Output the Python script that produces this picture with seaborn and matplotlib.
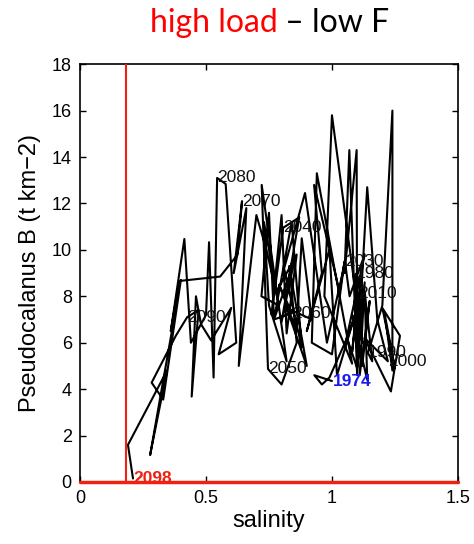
import matplotlib
matplotlib.use("Agg")
import matplotlib.pyplot as plt
import seaborn as sns
import pandas as pd

# trajectory vertices (salinity, biomass), in time order 1974 -> 2098
salinity = [
    1.00, 0.93, 0.96, 0.99, 1.06, 1.10, 1.12, 1.095,
    1.10, 1.13, 1.11, 1.15, 1.12, 1.08, 1.14, 1.13, 1.16, 1.143,
    1.20, 1.24, 1.24, 1.21, 1.25, 1.20, 1.27, 1.234, 1.13, 1.222,
    1.18, 1.14, 1.10, 1.098, 1.05, 1.069, 1.10, 1.12, 1.08, 1.103,
    1.12, 1.00, 0.97, 1.08, 1.01, 0.94, 0.92, 1.00, 1.05, 1.03,
    0.929, 0.96, 0.90, 0.99, 1.02, 1.10, 1.05, 1.13, 1.07, 1.052,
    0.98, 0.893, 0.81, 0.88, 0.84, 0.77, 0.85, 0.80, 0.87, 0.806,
    0.76, 0.80, 0.82, 0.86, 0.78, 0.73, 0.75, 0.82, 0.721, 0.746,
    0.80, 0.86, 0.83, 0.90, 0.82, 0.92, 0.88, 0.86, 0.79, 0.841,
    0.77, 0.75, 0.72, 0.79, 0.74, 0.70, 0.63, 0.66, 0.61, 0.643,
    0.624, 0.556, 0.394, 0.36, 0.414, 0.44, 0.50, 0.512, 0.53, 0.544,
    0.578, 0.62, 0.55, 0.60, 0.52, 0.48, 0.46, 0.443, 0.47, 0.425,
    0.38, 0.284, 0.33, 0.40, 0.278, 0.345, 0.19, 0.21,
]
biomass = [
    4.35, 4.6, 4.2, 4.5, 6.2, 4.9, 8.5, 8.97,
    5.2, 8.6, 4.6, 7.8, 5.0, 7.2, 4.4, 8.2, 5.2, 5.56,
    7.6, 16.0, 4.8, 7.2, 4.9, 7.5, 6.3, 3.9, 6.2, 5.2,
    7.0, 12.7, 5.0, 14.3, 9.0, 14.3, 4.6, 9.3, 5.6, 8.1,
    6.0, 15.8, 8.0, 5.1, 9.2, 13.3, 6.0, 5.5, 9.5, 8.2,
    12.8, 9.0, 6.5, 10.0, 4.6, 7.5, 5.8, 9.8, 8.0, 9.48,
    6.0, 12.45, 9.2, 5.8, 11.2, 7.0, 9.5, 6.9, 11.4, 10.95,
    7.2, 11.5, 6.4, 9.8, 8.2, 11.2, 7.6, 5.2, 12.8, 4.87,
    4.2, 6.0, 9.3, 5.0, 7.5, 7.0, 10.5, 6.5, 8.5, 7.28,
    7.0, 11.6, 8.0, 7.6, 10.0, 11.5, 5.0, 11.8, 9.0, 12.1,
    9.78, 8.85, 8.66, 6.5, 10.47, 6.0, 7.2, 10.33, 4.5, 13.1,
    12.84, 6.0, 5.5, 7.5, 6.1, 6.8, 8.0, 3.68, 7.4, 7.1,
    6.3, 4.28, 3.55, 8.7, 1.16, 4.8, 1.6, 0.15,
]

# year labels
label_text = ["1980", "1990", "2000", "2010", "2030", "2040",
              "2050", "2060", "2070", "2080", "2090"]
label_x = [1.095, 1.143, 1.222, 1.103, 1.052, 0.806, 0.746, 0.841, 0.643, 0.544, 0.425]
label_y = [8.97, 5.56, 5.2, 8.1, 9.48, 10.95, 4.87, 7.28, 12.1, 13.1, 7.1]
start_label, start_x, start_y = "1974", 1.004, 4.35
end_label, end_x, end_y = "2098", 0.21, 0.15

threshold_x = 0.183

sns.set_theme(style="white")
plt.rcParams["font.family"] = ["Liberation Sans", "DejaVu Sans"]
plt.rcParams["text.color"] = "black"
plt.rcParams["axes.labelcolor"] = "black"

fig = plt.figure(figsize=(4.74, 5.44), dpi=100)
ax = fig.add_axes([0.169, 0.114, 0.797, 0.768])

df = pd.DataFrame({"salinity": salinity, "biomass": biomass, "order": range(len(salinity))})
sns.lineplot(data=df, x="salinity", y="biomass", sort=False, estimator=None,
             color="black", linewidth=1.5, ax=ax)

red = "#ee2211"
ax.axvline(threshold_x, color=red, linewidth=1.5, zorder=5)
ax.axhline(0, color=red, linewidth=2.5, zorder=5, clip_on=False)

for t, x, y in zip(label_text, label_x, label_y):
    ax.text(x, y, t, fontsize=12.5, ha="left", va="center", color="#111111")
ax.text(start_x, start_y, start_label, fontsize=12.5, fontweight="bold",
        ha="left", va="center", color="#1a1aee")
ax.text(end_x, end_y, end_label, fontsize=12.5, fontweight="bold",
        ha="left", va="center", color=red, zorder=6)

ax.set_xlim(0, 1.5)
ax.set_ylim(0, 18)
ax.set_xticks([0, 0.5, 1, 1.5])
ax.set_xticklabels(["0", "0.5", "1", "1.5"])
ax.set_yticks(range(0, 19, 2))
ax.tick_params(direction="in", length=4, width=1, labelsize=13, colors="black",
               top=True, right=True, bottom=True, left=True, pad=6)
for s in ax.spines.values():
    s.set_color("black")
    s.set_linewidth(1.2)
ax.set_xlabel("salinity", fontsize=17, labelpad=2, color="black")
ax.set_ylabel("Pseudocalanus B (t km\u22122)", fontsize=17, labelpad=8, color="black")

# title with two colours
fig.text(0.585, 0.958, "high load", fontsize=23, color="#ff0000", ha="right",
         va="center", family=["Lato", "DejaVu Sans"])
fig.text(0.585, 0.958, " \u2013 low F", fontsize=23, color="black", ha="left",
         va="center", family=["Lato", "DejaVu Sans"])

fig.savefig("out.png", dpi=100)
